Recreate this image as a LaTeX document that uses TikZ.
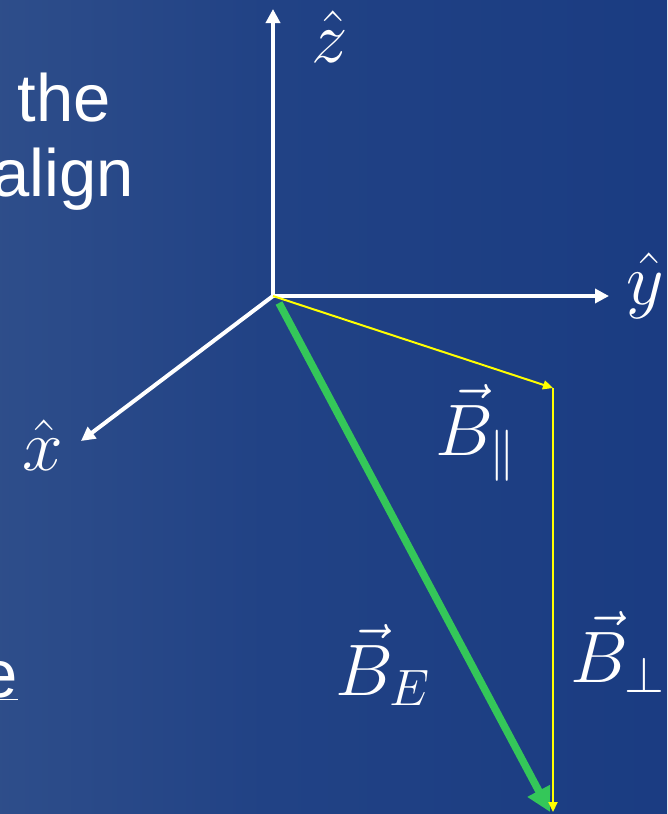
\documentclass[tikz,border=0pt]{standalone}
\usepackage{fix-cm}
\usepackage{fontspec}
\setmainfont{Liberation Sans}
\usetikzlibrary{arrows.meta}
\definecolor{slideleft}{RGB}{62, 92, 145}
\definecolor{slidemid}{RGB}{33, 66, 133}
\definecolor{slideright}{RGB}{21, 55, 127}
\definecolor{axiscolor}{RGB}{255, 255, 255}
\definecolor{fieldcolor}{RGB}{52, 199, 89}
\definecolor{compcolor}{RGB}{255, 255, 0}
\pgfdeclarehorizontalshading{slideshade}{100bp}{
  color(0bp)=(slideleft);
  color(45bp)=(slidemid);
  color(100bp)=(slideright)
}
\tikzset{
axisarrow/.style={
  draw=axiscolor,
  line width=4pt,
  -{Triangle[length=14pt,width=14pt]}
},
fieldarrow/.style={
  draw=fieldcolor,
  line width=7.5pt,
  -{Triangle[length=24pt,width=24pt]}
},
comparrow/.style={
  draw=compcolor,
  line width=2pt,
  -{Triangle[length=10pt,width=9pt]}
},
mathlabel/.style={
  text=white,
  inner sep=0pt,
  font=\fontsize{73}{80}\selectfont
},
slidetext/.style={
  text=white,
  inner sep=0pt,
  font=\fontsize{67}{80}\selectfont
}
}

\begin{document}
\begin{tikzpicture}[x=1pt, y=-1pt]

% ============================================================================
% FUNDO
% ============================================================================
\useasboundingbox (0, 0) rectangle (667, 814);
\clip (0, 0) rectangle (667, 814);
\shade[shading=slideshade] (0, 0) rectangle (667, 814);

% Texto do slide (cortado na margem)
\node[slidetext, anchor=base east] (textthe) at (111, 121) {the};
\node[slidetext, anchor=base east] (textalign) at (134, 196) {align};
\node[slidetext, anchor=base east] (texte) at (18, 697) {\underline{e}};

% ============================================================================
% EIXOS
% ============================================================================
\coordinate (origin) at (273, 296);
\coordinate (ztip) at (273, 9);
\coordinate (ytip) at (609, 296);
\coordinate (xtip) at (81, 441);

\draw[axisarrow] (origin) -- (ztip);
\draw[axisarrow] (origin) -- (ytip);
\draw[axisarrow] (origin) -- (xtip);

\node[mathlabel, anchor=base west] (zlabel) at (311, 62) {$\hat{z}$};
\node[mathlabel, anchor=base west] (ylabel) at (626, 304) {$\hat{y}$};
\node[mathlabel, anchor=base west] (xlabel) at (22, 470) {$\hat{x}$};

% ============================================================================
% CAMPO E COMPONENTES
% ============================================================================
\coordinate (fieldstart) at (279, 303);
\coordinate (fieldend) at (550, 812);
\coordinate (parend) at (553, 388);
\coordinate (perpend) at (553, 812);

\draw[fieldarrow] (fieldstart) -- (fieldend);
\draw[comparrow] (origin) -- (parend);
\draw[comparrow] (parend) -- (perpend);

\node[mathlabel, anchor=base west] (parlabel) at (435, 455) {$\vec{B}_\parallel$};
\node[mathlabel, anchor=base west] (fieldlabel) at (335, 695) {$\vec{B}_E$};
\node[mathlabel, anchor=base west] (perplabel) at (570, 682) {$\vec{B}_\perp$};

\end{tikzpicture}
\end{document}
